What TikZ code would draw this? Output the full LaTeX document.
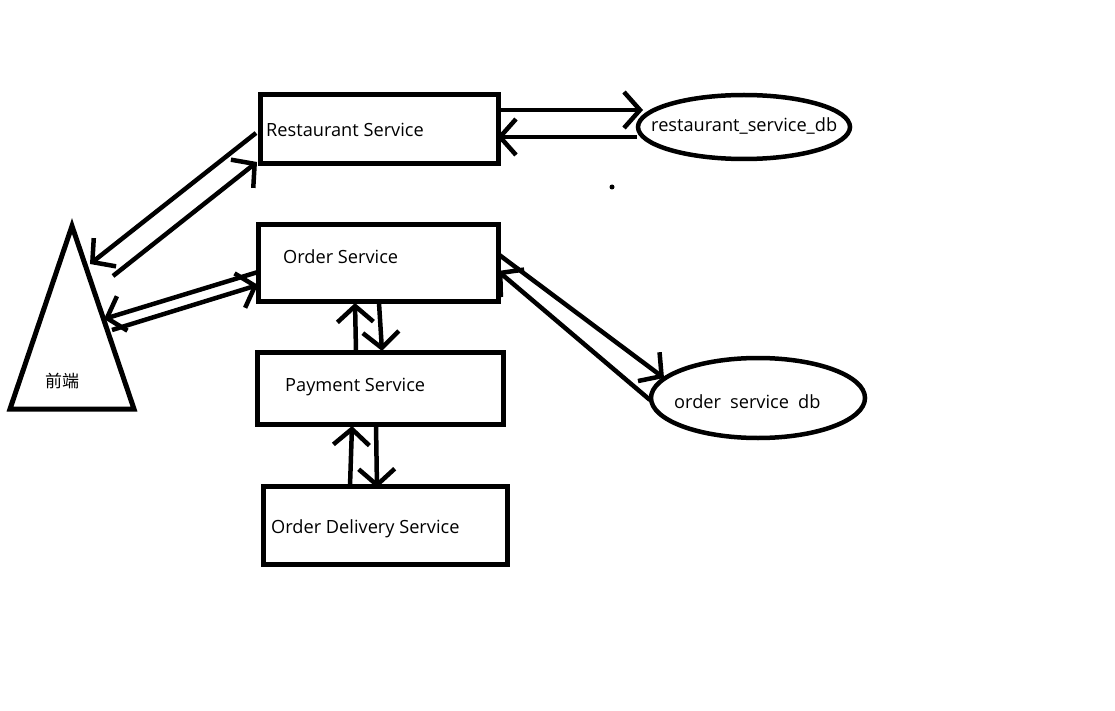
\documentclass[tikz,border=0pt]{standalone}
\usepackage{fontspec}
\setmainfont{Open Sans}
\newfontfamily\cjk{Noto Sans CJK SC}
\usetikzlibrary{arrows.meta,shapes.geometric}
\tikzset{
  box/.style={draw,line width=5pt,minimum width=#1,inner sep=0pt},
  db/.style={draw,ellipse,line width=4.5pt,inner sep=0pt},
  lbl/.style={anchor=west,inner sep=0pt,font=\fontsize{18.2}{21}\selectfont},
  arr/.style={line width=4.5pt,-{Straight Barb[length=16pt,width=36pt,line width=4.5pt]}},
}
\begin{document}
\begin{tikzpicture}[x=1pt,y=-1pt]
\useasboundingbox (0,0) rectangle (1115,711);
% boxes
\node[box=238pt,minimum height=69pt] (rs) at (379,129.5) {};
\node[box=240pt,minimum height=76pt] (os) at (378,263) {};
\node[box=246pt,minimum height=72pt] (ps) at (380,388) {};
\node[box=244pt,minimum height=78pt] (ds) at (385,525) {};
\node[lbl] (rst) at (266,130) {Restaurant Service};
\node[lbl] (ost) at (283,257) {Order Service};
\node[lbl] (pst) at (285,387) {Payment Service};
\node[lbl] (dst) at (271,529) {Order Delivery Service};
% databases
\node[db,minimum width=212pt,minimum height=64pt] (rdb) at (744,127) {};
\node[lbl] (rdbt) at (651,126) {restaurant\_service\_db};
\node[db,minimum width=214pt,minimum height=80pt] (odb) at (758,398) {};
\node[lbl] (odbt) at (674,402) {order\hspace{0.5em}service\hspace{0.5em}db};
% front end triangle
\coordinate (fa) at (72,226);
\coordinate (fr) at (134,409);
\coordinate (fl) at (10,409);
\draw[line width=5pt,line join=miter] (fa) -- (fr) -- (fl) -- cycle;
\node[inner sep=0pt,font=\cjk\fontsize{17}{19}\selectfont] (fe) at (62,381) {前端};
% dot
\fill (612,187) circle (2.5pt);
% connector end points
\coordinate (a1) at (498,110); \coordinate (b1) at (643,110);
\coordinate (a2) at (637,137); \coordinate (b2) at (497,137);
\coordinate (a3) at (256,133); \coordinate (b3) at (90,264);
\coordinate (a4) at (113,276); \coordinate (b4) at (257,162);
\coordinate (a5) at (258,272); \coordinate (b5) at (104,319);
\coordinate (a6) at (112,330); \coordinate (b6) at (258,285);
\coordinate (a7) at (498,254); \coordinate (b7) at (664,378);
\coordinate (a8) at (650,400); \coordinate (b8) at (498,271);
\coordinate (a9) at (356,351); \coordinate (b9) at (355,303);
\coordinate (a10) at (379,303); \coordinate (b10) at (382,351);
\coordinate (a11) at (350,486); \coordinate (b11) at (352,426);
\coordinate (a12) at (376,425); \coordinate (b12) at (377,488);
\draw[arr] (a1) -- (b1);
\draw[arr] (a2) -- (b2);
\draw[arr] (a3) -- (b3);
\draw[arr] (a4) -- (b4);
\draw[arr] (a5) -- (b5);
\draw[arr] (a6) -- (b6);
\draw[arr] (a7) -- (b7);
\draw[arr] (a8) -- (b8);
\draw[arr] (a9) -- (b9);
\draw[arr] (a10) -- (b10);
\draw[arr] (a11) -- (b11);
\draw[arr] (a12) -- (b12);
\end{tikzpicture}
\end{document}
